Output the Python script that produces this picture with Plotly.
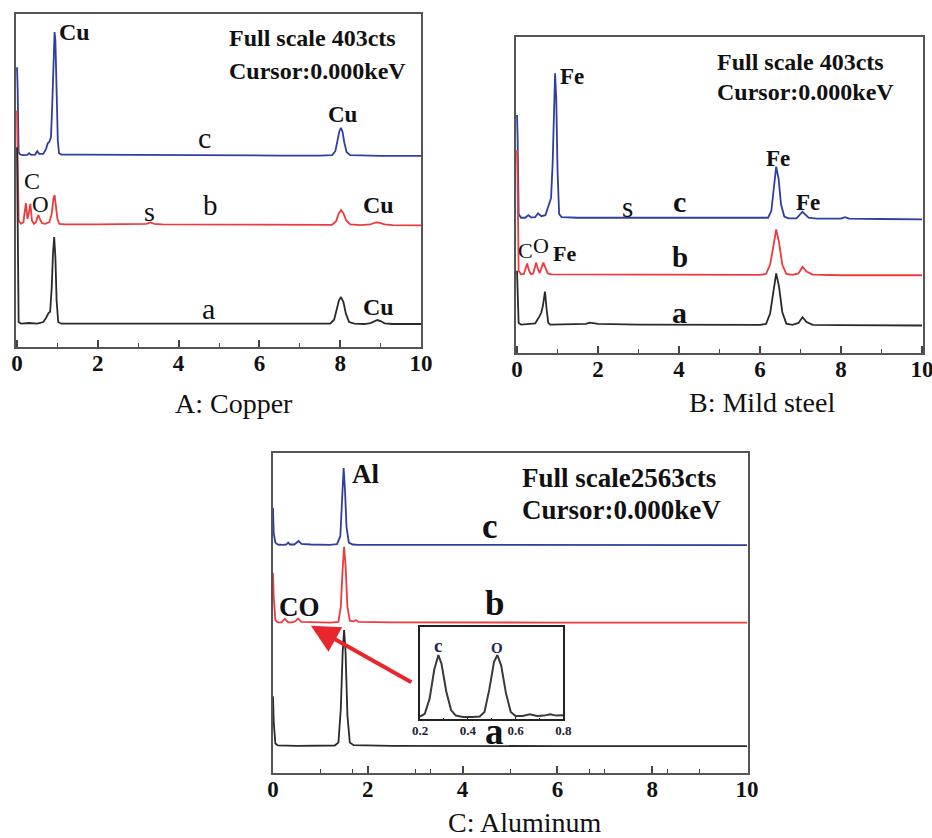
import plotly.graph_objects as go

# ---------------- data (energy keV, relative intensity 0-100 of panel height) ----------------
A_c_x = [0, 0.015, 0.04, 0.08, 0.15, 0.25, 0.3, 0.35, 0.45, 0.5, 0.55, 0.65, 0.72, 0.76, 0.8, 0.84, 0.87, 0.9, 0.93, 0.95,
         0.98, 1.01, 1.04, 1.1, 1.5, 2.5, 3.5, 4.5, 5.5, 6.5, 7.5, 7.8, 7.88, 7.94, 7.98, 8.02, 8.06, 8.1, 8.16, 8.25, 8.5, 9, 10]
A_c_y = [84, 78, 58.5, 57.8, 57.6, 57.7, 58.2, 57.7, 57.8, 58.8, 58, 58, 59.5, 61.2, 61.6, 63, 72, 86, 94.6, 92,
         75, 62, 58.2, 57.8, 57.8, 57.7, 57.7, 57.6, 57.6, 57.5, 57.5, 57.6, 58.8, 62, 64.8, 65.8, 64.5, 61.5, 58.5, 57.6, 57.5, 57.4, 57.4]
A_b_x = [0, 0.015, 0.04, 0.1, 0.16, 0.19, 0.22, 0.26, 0.29, 0.33, 0.37, 0.42, 0.47, 0.5, 0.53, 0.57, 0.62, 0.7, 0.8, 0.86,
         0.9, 0.93, 0.96, 1.0, 1.05, 1.2, 2, 3, 3.2, 3.3, 3.4, 3.6, 5, 7, 7.8, 7.9, 7.96, 8.02, 8.08, 8.15, 8.25, 8.5,
         8.75, 8.85, 8.92, 9.0, 9.1, 9.3, 10]
A_b_y = [71, 60, 38, 37, 37.5, 40.5, 43.2, 38.5, 40, 43, 38, 37, 37.5, 38.8, 39.6, 38.3, 37.2, 37, 37.5, 40,
         44.5, 45.6, 43, 38.5, 37, 36.8, 36.8, 36.8, 37, 37.4, 37, 36.8, 36.7, 36.6, 36.7, 37.8, 40, 41.1, 40.2, 38, 36.8, 36.6,
         36.8, 37.3, 37.4, 37.2, 36.8, 36.6, 36.5]
A_a_x = [0, 0.015, 0.04, 0.1, 0.3, 0.5, 0.65, 0.72, 0.78, 0.82, 0.86, 0.89, 0.92, 0.95, 0.98, 1.02, 1.1, 2, 3, 4, 5, 6, 7,
         7.75, 7.85, 7.92, 7.97, 8.02, 8.08, 8.14, 8.22, 8.35, 8.6, 8.75, 8.85, 8.92, 9.0, 9.1, 9.3, 10]
A_a_y = [60, 40, 7.5, 7.0, 7.2, 7.0, 7.5, 8.8, 10.2, 10.6, 18, 28, 33, 27, 14, 7.5, 7.0, 7.0, 7.0, 7.1, 7.0, 6.9, 6.9,
         7.0, 8.2, 11.5, 14, 15, 13.5, 10, 7.5, 7.0, 6.9, 7.2, 7.8, 8.1, 7.8, 7.1, 6.9, 6.9]

B_c_x = [0, 0.015, 0.04, 0.1, 0.2, 0.28, 0.35, 0.45, 0.52, 0.6, 0.7, 0.76, 0.8, 0.84, 0.88, 0.91, 0.94, 0.97, 1.0, 1.04,
         1.1, 1.5, 2.5, 3.5, 4.5, 5.5, 6.1, 6.2, 6.28, 6.34, 6.4, 6.46, 6.52, 6.6, 6.7, 6.9, 6.98, 7.05, 7.12, 7.2, 7.4,
         8.0, 8.1, 8.2, 9, 10]
B_c_y = [75.3, 68, 44, 42.8, 42.8, 43.6, 42.9, 43, 44.2, 43.3, 43.6, 46, 47.9, 49, 60, 78, 88.5, 80, 58, 44,
         43, 42.8, 42.8, 42.7, 42.7, 42.6, 42.6, 42.8, 45, 52, 59, 55, 47, 43.2, 42.6, 42.6, 43.6, 44.7, 43.8, 42.8, 42.5,
         42.5, 43, 42.5, 42.4, 42.3]
B_b_x = [0, 0.015, 0.04, 0.1, 0.17, 0.21, 0.25, 0.29, 0.34, 0.4, 0.44, 0.47, 0.51, 0.56, 0.6, 0.65, 0.7, 0.76, 0.85,
         1.2, 2, 3, 4, 5, 6, 6.15, 6.25, 6.32, 6.4, 6.47, 6.55, 6.65, 6.8, 6.95, 7.05, 7.15, 7.3, 8, 9, 10]
B_b_y = [64.2, 55, 26, 24.9, 25, 26.5, 28.3, 26.3, 25, 25.1, 26.8, 28.6, 26.8, 25.3, 26.8, 28.6, 27, 25.2, 24.9,
         24.9, 24.8, 24.8, 24.7, 24.7, 24.7, 25, 28, 33, 39.1, 35, 28, 25, 24.7, 25.2, 27.3, 25.8, 24.8, 24.6, 24.6, 24.6]
B_a_x = [0, 0.015, 0.04, 0.1, 0.3, 0.45, 0.55, 0.6, 0.64, 0.69, 0.73, 0.77, 0.82, 1.0, 1.7, 1.8, 2, 3, 4, 5, 6, 6.15,
         6.25, 6.32, 6.4, 6.47, 6.55, 6.65, 6.8, 6.95, 7.05, 7.15, 7.3, 8, 9, 10]
B_a_y = [26, 20, 9.5, 9.0, 9.1, 9.4, 11.5, 12.8, 15, 19.4, 14, 9.6, 9.0, 9.0, 9.2, 9.6, 9.2, 9.0, 8.9, 8.9, 8.9, 9.2,
         12.5, 18.5, 25.2, 21, 13, 9.3, 8.9, 9.5, 11.3, 9.8, 8.9, 8.8, 8.7, 8.7]

C_c_x = [0, 0.015, 0.05, 0.1, 0.2, 0.28, 0.32, 0.36, 0.45, 0.5, 0.54, 0.6, 0.8, 1.2, 1.35, 1.42, 1.46, 1.49, 1.52,
         1.55, 1.6, 1.68, 1.8, 2.5, 4, 6, 8, 10]
C_c_y = [82.8, 75, 72, 71.4, 71.3, 71.4, 72, 71.4, 71.4, 72.2, 72.5, 71.6, 71.4, 71.3, 71.5, 74, 85, 95.3, 88,
         77, 72, 71.4, 71.3, 71.3, 71.25, 71.2, 71.2, 71.2]
C_b_x = [0, 0.015, 0.05, 0.1, 0.18, 0.25, 0.32, 0.4, 0.47, 0.53, 0.6, 0.8, 1.2, 1.38, 1.43, 1.47, 1.5, 1.53, 1.57,
         1.62, 1.7, 1.75, 1.8, 2.5, 4, 6, 8, 10]
C_b_y = [62.5, 55, 47.8, 47.1, 47.1, 48.2, 47.1, 47.1, 47.4, 48.3, 47.2, 47.1, 47.0, 47.2, 52, 64, 70.7, 65, 52,
         47.6, 47.4, 47.8, 47.2, 47.1, 47.0, 47.0, 47.0, 47.0]
C_a_x = [0, 0.015, 0.05, 0.1, 0.5, 1.0, 1.3, 1.38, 1.43, 1.47, 1.5, 1.53, 1.57, 1.62, 1.7, 2.5, 4, 6, 8, 10]
C_a_y = [24, 16, 9.2, 8.6, 8.5, 8.5, 8.6, 9.5, 20, 38, 44.7, 38, 18, 9.5, 8.7, 8.5, 8.4, 8.4, 8.4, 8.4]

I_x = [0.2, 0.22, 0.24, 0.26, 0.277, 0.29, 0.31, 0.33, 0.35, 0.38, 0.42, 0.45, 0.47, 0.49, 0.51, 0.524, 0.54, 0.56,
       0.58, 0.6, 0.63, 0.66, 0.69, 0.72, 0.745, 0.77, 0.8]
I_y = [3, 6, 22, 54, 69.4, 60, 30, 10, 4, 2.5, 2.5, 3, 8, 32, 62, 69.4, 58, 28, 8, 3.5, 3.5, 5.5, 3.5, 4, 5.5, 4, 4.5]

MAJOR_TICKS = [0, 2, 4, 6, 8, 10]
MINOR_AB = [1, 3, 5, 7, 9]
MINOR_C = [1, 1.67, 3, 3.33, 5, 6.67, 7, 8.33, 9]
INSET_TICKS = [0.2, 0.4, 0.6, 0.8]

BLUE, RED, BLACK = "#2f3f9e", "#ec3a3f", "#2a2a2a"
FONT = "Liberation Serif"

fig = go.Figure()

def add(x, y, color, xa, ya, w=1.8):
    fig.add_trace(go.Scatter(x=x, y=y, mode="lines", line=dict(color=color, width=w),
                             xaxis=xa, yaxis=ya, showlegend=False, hoverinfo="skip"))

add(A_c_x, A_c_y, BLUE, "x", "y"); add(A_b_x, A_b_y, RED, "x", "y"); add(A_a_x, A_a_y, BLACK, "x", "y")
add(B_c_x, B_c_y, BLUE, "x2", "y2"); add(B_b_x, B_b_y, RED, "x2", "y2"); add(B_a_x, B_a_y, BLACK, "x2", "y2")
add(C_c_x, C_c_y, BLUE, "x3", "y3"); add(C_b_x, C_b_y, RED, "x3", "y3"); add(C_a_x, C_a_y, BLACK, "x3", "y3")
add(I_x, I_y, "#3a3a3a", "x4", "y4", w=2)

W, H = 932, 838
def dx(a, b): return [a / W, b / W]
def dy(top, bot): return [1 - bot / H, 1 - top / H]

def xax(dom, rng, anchor, minor_vals, size):
    return dict(domain=dom, range=rng, anchor=anchor, showgrid=False, zeroline=False, automargin=False,
                showline=True, mirror=True, linecolor="#555", linewidth=1.8,
                ticks="inside", ticklen=7, tickwidth=1.5, tickcolor="#444",
                tickvals=MAJOR_TICKS, ticktext=[f"<b>{v}</b>" for v in MAJOR_TICKS],
                tickfont=dict(family=FONT, size=size, color="#111"),
                minor=dict(tickvals=minor_vals, ticks="inside", ticklen=4, tickwidth=1.3, tickcolor="#444"),
                ticklabelstandoff=-6, ticklabeloverflow="allow")

def yax(dom, anchor, rng=(0, 100)):
    return dict(domain=dom, range=list(rng), anchor=anchor, showgrid=False, zeroline=False, automargin=False,
                showline=True, mirror=True, linecolor="#555", linewidth=1.8,
                showticklabels=False, ticks="")

layout = dict(
    width=W, height=H, margin=dict(l=0, r=0, t=0, b=0, autoexpand=False),
    paper_bgcolor="white", plot_bgcolor="white",
    xaxis=xax(dx(16, 421), [-0.025, 10.0], "y", MINOR_AB, 23),
    yaxis=yax(dy(14, 347), "x"),
    xaxis2=xax(dx(516, 923), [-0.025, 10.025], "y2", MINOR_AB, 23),
    yaxis2=yax(dy(37, 353), "x2"),
    xaxis3=xax(dx(273, 748), [0, 10.02], "y3", MINOR_C, 23),
    yaxis3=yax(dy(453, 773), "x3"),
    xaxis4=dict(domain=dx(420, 563.3), range=[0.2, 0.8], anchor="y4", showgrid=False, zeroline=False,
                automargin=False, showline=True, mirror=True, linecolor="#222", linewidth=1.6,
                ticks="inside", ticklen=3, tickwidth=1.2, tickcolor="#222",
                tickvals=INSET_TICKS, ticktext=[f"<b>{v}</b>" for v in INSET_TICKS],
                tickfont=dict(family=FONT, size=13, color="#223"),
                minor=dict(tickvals=[0.3, 0.5, 0.7], ticks="inside", ticklen=2, tickwidth=1, tickcolor="#222"),
                ticklabelstandoff=-2, ticklabeloverflow="allow"),
    yaxis4=yax(dy(626.7, 719.3), "x4"),
)
fig.update_layout(**layout)
fig.update_layout(yaxis4=dict(linecolor="#222", linewidth=1.6))

ann = []
def txt(t, x, y, xr, yr, size, bold=True, xanchor="center", color="#111"):
    ann.append(dict(text=f"<b>{t}</b>" if bold else t, x=x, y=y, xref=xr, yref=yr, showarrow=False,
                    xanchor=xanchor, yanchor="middle", font=dict(family=FONT, size=size, color=color)))

txt("Cu", 1.0, 94.6, "x", "y", 24, xanchor="left")
txt("Full scale 403cts", 5.2, 92.8, "x", "y", 24, xanchor="left")
txt("Cursor:0.000keV", 5.2, 83.0, "x", "y", 24, xanchor="left")
txt("Cu", 8.07, 69.7, "x", "y", 23)
txt("c", 4.65, 62.8, "x", "y", 30, bold=False)
txt("C", 0.36, 49.8, "x", "y", 24, bold=False)
txt("O", 0.58, 42.8, "x", "y", 23, bold=False)
txt("s", 3.29, 40.6, "x", "y", 28, bold=False)
txt("b", 4.78, 42.6, "x", "y", 29, bold=False)
txt("Cu", 8.94, 42.6, "x", "y", 24)
txt("a", 4.75, 11.6, "x", "y", 30, bold=False)
txt("Cu", 8.94, 12.0, "x", "y", 24)
txt("Fe", 1.0, 87.4, "x2", "y2", 23, xanchor="left")
txt("Full scale 403cts", 4.9, 92.2, "x2", "y2", 24, xanchor="left")
txt("Cursor:0.000keV", 4.9, 82.7, "x2", "y2", 24, xanchor="left")
txt("Fe", 6.44, 61.7, "x2", "y2", 23)
txt("Fe", 7.19, 47.5, "x2", "y2", 23)
txt("s", 2.72, 46.2, "x2", "y2", 29, bold=False)
txt("c", 4.02, 47.8, "x2", "y2", 30)
txt("C", 0.2, 32.3, "x2", "y2", 22, bold=False)
txt("O", 0.6, 33.9, "x2", "y2", 22, bold=False)
txt("Fe", 1.18, 31.6, "x2", "y2", 22)
txt("b", 4.02, 30.4, "x2", "y2", 29)
txt("a", 4.02, 12.7, "x2", "y2", 30)
txt("Al", 1.62, 93.4, "x3", "y3", 27, xanchor="left")
txt("Full scale2563cts", 5.2, 92.2, "x3", "y3", 27, xanchor="left")
txt("Cursor:0.000keV", 5.2, 82.2, "x3", "y3", 27, xanchor="left")
txt("c", 4.58, 77.0, "x3", "y3", 35)
txt("CO", 0.08, 52.0, "x3", "y3", 27, xanchor="left")
txt("b", 4.68, 53.1, "x3", "y3", 35)
txt("a", 4.68, 12.9, "x3", "y3", 37)
txt("c", 0.277, 80, "x4", "y4", 19, color="#1d2450")
txt("O", 0.524, 77, "x4", "y4", 15, color="#1d2450")
txt("A: Copper", 234 / W, 1 - 403 / H, "paper", "paper", 28, bold=False)
txt("B: Mild steel", 762 / W, 1 - 402 / H, "paper", "paper", 28, bold=False)
txt("C: Aluminum", 524 / W, 1 - 822 / H, "paper", "paper", 28, bold=False)

ann.append(dict(x=0.8, y=46.0, xref="x3", yref="y3", ax=2.95, ay=28.1, axref="x3", ayref="y3",
                showarrow=True, arrowhead=2, arrowsize=1.4, arrowwidth=4, arrowcolor="#e8262b",
                standoff=0, text=""))

fig.update_layout(annotations=ann)
fig.write_html("out.html", config={"displayModeBar": False},
               post_script="document.body.style.margin='0px';document.body.style.padding='0px';")
